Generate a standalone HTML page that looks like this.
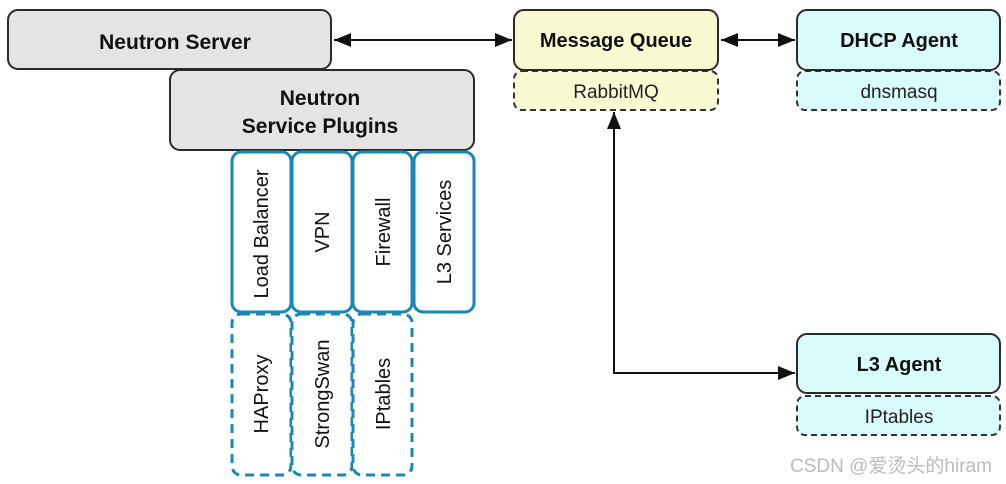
<!DOCTYPE html>
<html><head><meta charset="utf-8"><style>
html,body{margin:0;padding:0;background:#fff;width:1006px;height:484px;overflow:hidden}
svg text{font-family:"Liberation Sans","Noto Sans CJK SC",sans-serif}
</style></head><body>
<svg width="1006" height="484" viewBox="0 0 1006 484" xmlns="http://www.w3.org/2000/svg">
<defs>
<marker id="ab" viewBox="0 0 10 10" refX="10" refY="5" markerWidth="17" markerHeight="14" markerUnits="userSpaceOnUse" orient="auto-start-reverse" preserveAspectRatio="none"><path d="M0,0 L10,5 L0,10 z" fill="#111"/></marker>
</defs>
<rect x="8" y="10" width="323" height="59" rx="10" fill="#e4e4e4" stroke="#2a2a2a" stroke-width="2"/>
<text x="175" y="49" font-size="21" font-weight="bold" text-anchor="middle" fill="#111">Neutron Server</text>
<rect x="170" y="70" width="304" height="80" rx="10" fill="#e4e4e4" stroke="#2a2a2a" stroke-width="2"/>
<text x="320" y="105" font-size="21" font-weight="bold" text-anchor="middle" fill="#111">Neutron</text>
<text x="320" y="133" font-size="21" font-weight="bold" text-anchor="middle" fill="#111">Service Plugins</text>
<g fill="#fff" stroke="#1b87b5" stroke-width="3">
<rect x="232" y="152" width="59" height="160" rx="9"/>
<rect x="292" y="152" width="60" height="160" rx="9"/>
<rect x="353" y="152" width="59" height="160" rx="9"/>
<rect x="414" y="152" width="60" height="160" rx="9"/>
<g stroke-dasharray="9,6">
<rect x="232" y="314" width="59" height="161" rx="9"/>
<rect x="292" y="314" width="60" height="161" rx="9"/>
<rect x="353" y="314" width="59" height="161" rx="9"/>
</g></g>
<g font-size="20" fill="#111" text-anchor="middle">
<text transform="translate(268,234) rotate(-90)">Load Balancer</text>
<text transform="translate(329,232) rotate(-90)">VPN</text>
<text transform="translate(390,232) rotate(-90)">Firewall</text>
<text transform="translate(451,232) rotate(-90)">L3 Services</text>
<text transform="translate(268,394) rotate(-90)">HAProxy</text>
<text transform="translate(329,394) rotate(-90)">StrongSwan</text>
<text transform="translate(390,394) rotate(-90)">IPtables</text>
</g>
<rect x="514" y="71" width="204" height="39" rx="8" fill="#fafad2" stroke="#333" stroke-width="2" stroke-dasharray="6,4"/>
<rect x="514" y="10" width="204" height="60" rx="10" fill="#fafad2" stroke="#2a2a2a" stroke-width="2"/>
<text x="616" y="47" font-size="20" font-weight="bold" text-anchor="middle" fill="#111">Message Queue</text>
<text x="616" y="98" font-size="19" text-anchor="middle" fill="#222">RabbitMQ</text>
<rect x="797" y="71" width="203" height="39" rx="8" fill="#d9fbfb" stroke="#333" stroke-width="2" stroke-dasharray="6,4"/>
<rect x="797" y="10" width="203" height="60" rx="10" fill="#d9fbfb" stroke="#2a2a2a" stroke-width="2"/>
<text x="899" y="47" font-size="20" font-weight="bold" text-anchor="middle" fill="#111">DHCP Agent</text>
<text x="899" y="98" font-size="19" text-anchor="middle" fill="#222">dnsmasq</text>
<rect x="797" y="396" width="203" height="39" rx="8" fill="#d9fbfb" stroke="#333" stroke-width="2" stroke-dasharray="6,4"/>
<rect x="797" y="334" width="203" height="59" rx="10" fill="#d9fbfb" stroke="#2a2a2a" stroke-width="2"/>
<text x="899" y="371" font-size="20" font-weight="bold" text-anchor="middle" fill="#111">L3 Agent</text>
<text x="899" y="423" font-size="19" text-anchor="middle" fill="#222">IPtables</text>
<g stroke="#111" stroke-width="2" fill="none">
<line x1="334" y1="40" x2="512" y2="40" marker-start="url(#ab)" marker-end="url(#ab)"/>
<line x1="721" y1="40" x2="795" y2="40" marker-start="url(#ab)" marker-end="url(#ab)"/>
<polyline points="614,112 614,373 795,373" marker-start="url(#ab)" marker-end="url(#ab)"/>
</g>
<text x="790" y="472" font-size="19" fill="#bbb">CSDN @爱烫头的hiram</text>
</svg>
</body></html>
